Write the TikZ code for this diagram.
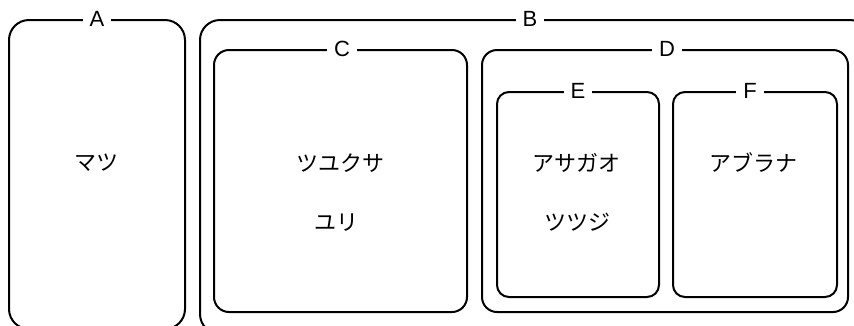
\documentclass[tikz,border=0pt]{standalone}
\usepackage{fontspec}
\setmainfont{Liberation Sans}
\newfontfamily\jp{Noto Sans CJK JP}
\begin{document}
\begin{tikzpicture}[x=1pt,y=-1pt,
  grp/.style={draw=black,line width=2pt,rounded corners=#1},
  grp/.default=18pt,
  lbl/.style={fill=white,inner xsep=7pt,inner ysep=1pt,font=\fontsize{22}{22}\selectfont},
  txt/.style={font=\jp\fontsize{22}{22}\selectfont,inner sep=0pt}]
\useasboundingbox (0,0) rectangle (854,325);
\clip (0,0) rectangle (854,325);
% boxes
\draw[grp=20pt] (9,20) rectangle (185,329);
\draw[grp=20pt] (200,20) rectangle (870,334);
\draw[grp=15pt] (214,50) rectangle (467,312);
\draw[grp=15pt] (482,50) rectangle (848,312);
\draw[grp=12pt] (497,92) rectangle (659,297);
\draw[grp=12pt] (673,92) rectangle (837,297);
% labels
\node[lbl] (la) at (97,19) {A};
\node[lbl] (lb) at (530,19) {B};
\node[lbl] (lc) at (342,49) {C};
\node[lbl] (ld) at (667,49) {D};
\node[lbl] (le) at (578,91) {E};
\node[lbl] (lf) at (750,91) {F};
% texts
\node[txt] (t1) at (96,163) {マツ};
\node[txt] (t2) at (340,163) {ツユクサ};
\node[txt] (t3) at (336,223) {ユリ};
\node[txt] (t4) at (576,163) {アサガオ};
\node[txt] (t5) at (577,222) {ツツジ};
\node[txt] (t6) at (753,163) {アブラナ};
\end{tikzpicture}
\end{document}
